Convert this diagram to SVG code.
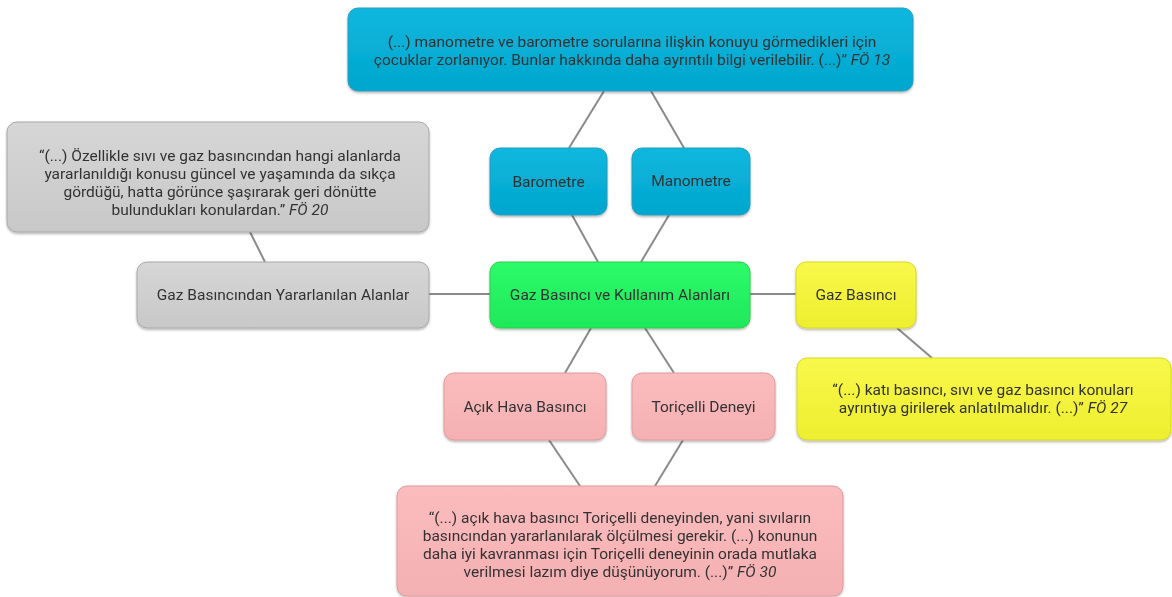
<svg xmlns="http://www.w3.org/2000/svg" width="1172" height="597" viewBox="0 0 1172 597">
<style>
text{font-family:Roboto,"Liberation Sans",sans-serif;font-size:15.5px;fill:#333;text-anchor:middle}
.i{font-style:italic}
.c{stroke:#8a8a8a;stroke-width:2;fill:none}
.blue{fill:url(#gb);stroke:#2a9cc0;stroke-width:1}
.green{fill:url(#gg);stroke:#2ccf4a;stroke-width:1}
.gray{fill:url(#gy);stroke:#a8a8a8;stroke-width:1}
.yel{fill:url(#gl);stroke:#d8d820;stroke-width:1}
.pink{fill:url(#gp);stroke:#e09a9c;stroke-width:1}
</style>
<defs>
<linearGradient id="gb" x1="0" y1="0" x2="0" y2="1"><stop offset="0" stop-color="#0bb7de"/><stop offset="1" stop-color="#03a6cd"/></linearGradient>
<linearGradient id="gg" x1="0" y1="0" x2="0" y2="1"><stop offset="0" stop-color="#2dfb6a"/><stop offset="1" stop-color="#1ee85a"/></linearGradient>
<linearGradient id="gy" x1="0" y1="0" x2="0" y2="1"><stop offset="0" stop-color="#d6d6d6"/><stop offset="1" stop-color="#c8c8c8"/></linearGradient>
<linearGradient id="gl" x1="0" y1="0" x2="0" y2="1"><stop offset="0" stop-color="#f8f84a"/><stop offset="1" stop-color="#eeee30"/></linearGradient>
<linearGradient id="gp" x1="0" y1="0" x2="0" y2="1"><stop offset="0" stop-color="#fbbcbe"/><stop offset="1" stop-color="#f4b0b2"/></linearGradient>
<filter id="sh" x="-5%" y="-5%" width="110%" height="120%"><feDropShadow dx="0" dy="1.5" stdDeviation="1.2" flood-color="#000" flood-opacity="0.3"/></filter>
</defs>
<g id="connectors">
<line class="c" x1="604" y1="91" x2="569" y2="148"/>
<line class="c" x1="651" y1="91" x2="684" y2="148"/>
<line class="c" x1="572" y1="215" x2="598" y2="262"/>
<line class="c" x1="669" y1="215" x2="641" y2="262"/>
<line class="c" x1="429" y1="294" x2="490" y2="294"/>
<line class="c" x1="750" y1="294" x2="796" y2="294"/>
<line class="c" x1="250" y1="232" x2="265" y2="262"/>
<line class="c" x1="897" y1="328" x2="932" y2="358"/>
<line class="c" x1="591" y1="328" x2="565" y2="373"/>
<line class="c" x1="645" y1="328" x2="674" y2="373"/>
<line class="c" x1="549" y1="440" x2="580" y2="486"/>
<line class="c" x1="683" y1="440" x2="655" y2="486"/>
</g>
<g id="fo13" filter="url(#sh)">
<rect class="blue" x="348" y="8" width="565" height="83" rx="10"/>
<text x="632" y="47">(...) manometre ve barometre sorularına ilişkin konuyu görmedikleri için</text>
<text x="632" y="65">çocuklar zorlanıyor. Bunlar hakkında daha ayrıntılı bilgi verilebilir. (...)” <tspan class="i">FÖ 13</tspan></text>
</g>
<g id="barometre" filter="url(#sh)">
<rect class="blue" x="490" y="148" width="117" height="67" rx="10"/>
<text x="548.5" y="187">Barometre</text>
</g>
<g id="manometre" filter="url(#sh)">
<rect class="blue" x="632" y="148" width="118" height="67" rx="10"/>
<text x="691" y="186">Manometre</text>
</g>
<g id="fo20" filter="url(#sh)">
<rect class="gray" x="7" y="122" width="422" height="110" rx="10"/>
<text x="220" y="161">“(...) Özellikle sıvı ve gaz basıncından hangi alanlarda</text>
<text x="220" y="179">yararlanıldığı konusu güncel ve yaşamında da sıkça</text>
<text x="220" y="197">gördüğü, hatta görünce şaşırarak geri dönütte</text>
<text x="220" y="215">bulundukları konulardan.” <tspan class="i">FÖ 20</tspan></text>
</g>
<g id="yararlanilan" filter="url(#sh)">
<rect class="gray" x="137" y="262" width="292" height="66" rx="10"/>
<text x="283" y="300">Gaz Basıncından Yararlanılan Alanlar</text>
</g>
<g id="center" filter="url(#sh)">
<rect class="green" x="490" y="262" width="260" height="66" rx="10"/>
<text x="620" y="300">Gaz Basıncı ve Kullanım Alanları</text>
</g>
<g id="gazbasinci" filter="url(#sh)">
<rect class="yel" x="796" y="262" width="120" height="66" rx="10"/>
<text x="856" y="300">Gaz Basıncı</text>
</g>
<g id="fo27" filter="url(#sh)">
<rect class="yel" x="797" y="358" width="374" height="82" rx="10"/>
<text x="983" y="395">“(...) katı basıncı, sıvı ve gaz basıncı konuları</text>
<text x="983" y="413">ayrıntıya girilerek anlatılmalıdır. (...)” <tspan class="i">FÖ 27</tspan></text>
</g>
<g id="acikhava" filter="url(#sh)">
<rect class="pink" x="444" y="373" width="162" height="67" rx="10"/>
<text x="525" y="412">Açık Hava Basıncı</text>
</g>
<g id="toricelli" filter="url(#sh)">
<rect class="pink" x="632" y="373" width="143" height="67" rx="10"/>
<text x="703.5" y="412">Toriçelli Deneyi</text>
</g>
<g id="fo30" filter="url(#sh)">
<rect class="pink" x="397" y="486" width="446" height="110" rx="10"/>
<text x="620" y="523">“(...) açık hava basıncı Toriçelli deneyinden, yani sıvıların</text>
<text x="620" y="541">basıncından yararlanılarak ölçülmesi gerekir. (...) konunun</text>
<text x="620" y="559">daha iyi kavranması için Toriçelli deneyinin orada mutlaka</text>
<text x="620" y="577">verilmesi lazım diye düşünüyorum. (...)” <tspan class="i">FÖ 30</tspan></text>
</g>
</svg>
